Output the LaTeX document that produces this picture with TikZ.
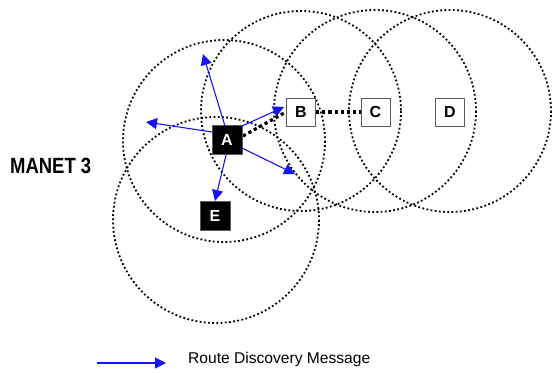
\documentclass[tikz,border=0pt]{standalone}
\usepackage{fontspec}
\setmainfont{Liberation Sans}
\usetikzlibrary{arrows.meta}
\definecolor{msgblue}{RGB}{20,20,245}
\definecolor{boxedge}{RGB}{90,90,90}
\tikzset{
  radiorange/.style={draw=black, line width=1.8pt, dash pattern=on 1.8pt off 2.4pt},
  hostbox/.style={draw=boxedge, line width=1pt, fill=white, minimum width=29pt, minimum height=28pt,
    inner sep=0pt, font=\fontsize{16}{16}\selectfont\bfseries, text=black},
  activebox/.style={hostbox, fill=black, text=white, minimum width=30pt, minimum height=29pt},
  link/.style={draw=black, line width=3.2pt, dash pattern=on 3.2pt off 3pt},
  msg/.style={draw=msgblue, line width=1.1pt, -{Triangle[length=11pt,width=11pt]}},
}
\begin{document}
\begin{tikzpicture}[x=1pt,y=-1pt]
  \useasboundingbox (0,0) rectangle (553,372);
  % radio ranges
  \draw[radiorange] (224,141) circle (101);
  \draw[radiorange] (216,220) circle (103);
  \draw[radiorange] (301,111) circle (100);
  \draw[radiorange] (375,111) circle (101);
  \draw[radiorange] (450,111) circle (101);
  % route links
  \node[hostbox] (B) at (301,112) {B};
  \node[hostbox] (C) at (375.5,112) {C};
  \node[hostbox] (D) at (450,112) {D};
  \draw[link] (243,136) -- (B.west);
  \draw[link] (B.east) -- (C.west);
  % hosts
  \node[activebox] (A) at (227,140) {A};
  \node[activebox] (E) at (215,216) {E};
  % message targets
  \coordinate (t1) at (203,54);
  \coordinate (t2) at (146,122);
  \coordinate (t3) at (284,107);
  \coordinate (t4) at (295,174);
  % route discovery broadcast
  \draw[msg] (225,126) -- (t1);
  \draw[msg] (212,132) -- (t2);
  \draw[msg] (242,126) -- (t3);
  \draw[msg] (242,148) -- (t4);
  \draw[msg] (226,155) -- (E.north);
  % label
  \node[anchor=west, font=\fontsize{22}{22}\selectfont\bfseries, xscale=0.84, inner sep=0pt] (m) at (10,166) {MANET 3};
  % legend
  \coordinate (l0) at (97,363);
  \coordinate (l1) at (166,363);
  \draw[msg] (l0) -- (l1);
  \node[anchor=west, font=\fontsize{15.6}{16}\selectfont, inner sep=0pt] (lt) at (188,359) {Route Discovery Message};
\end{tikzpicture}
\end{document}
